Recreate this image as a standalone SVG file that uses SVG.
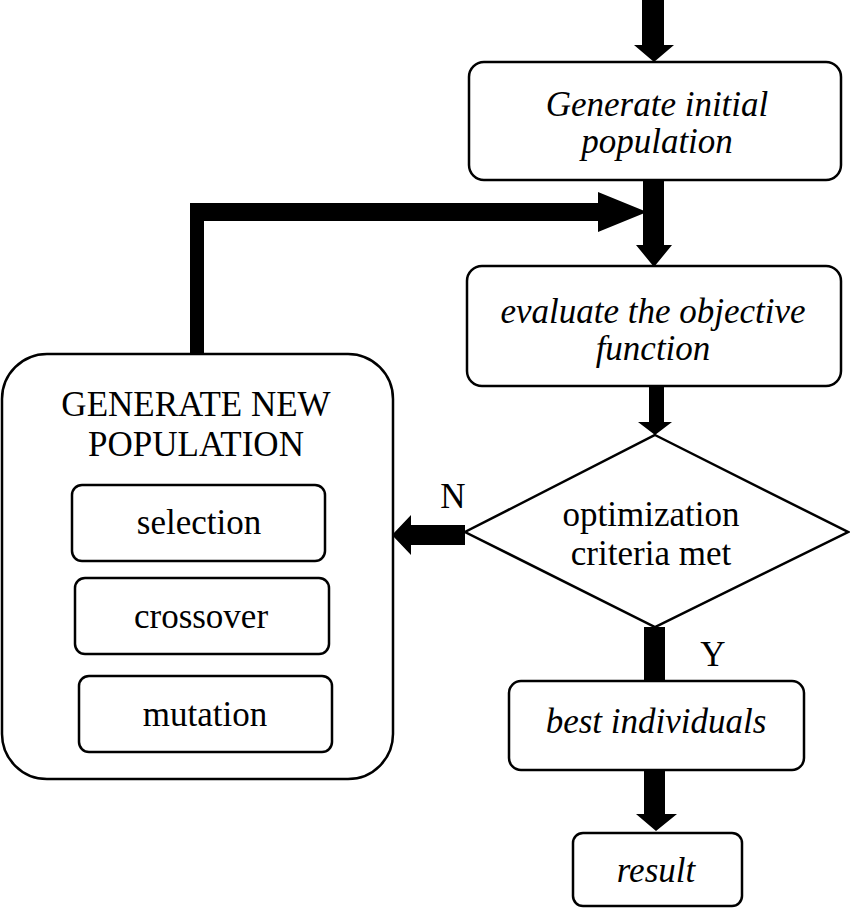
<svg xmlns="http://www.w3.org/2000/svg" width="850" height="908" viewBox="0 0 850 908">
<style>
.box{fill:#fff;stroke:#000;stroke-width:2.5}
text{font-family:'Liberation Serif','Times New Roman',serif;font-size:35px;fill:#000;text-anchor:middle}
.i{font-style:italic}
.c{fill:#000;stroke:none}
</style>
<rect width="850" height="908" fill="#fff"/>
<g id="connectors">
<polygon class="c" points="642,0 664,0 664,45 674,45 654,62 634,45 642,45"/>
<polygon class="c" points="643,180 664,180 664,245 672,245 654,267 636,245 643,245"/>
<polygon class="c" points="190,354 204,354 204,221 598,221 598,232 647,212 598,192 598,203 190,203"/>
<polygon class="c" points="649,386 664,386 664,422 672,422 655,435 638,422 649,422"/>
<polygon class="c" points="465,525 465,545 411,545 411,555 392,535 411,515 411,525"/>
<rect class="c" x="644" y="627" width="21" height="55"/>
<polygon class="c" points="644,770 665,770 665,814 677,814 656,831 636,814 644,814"/>
</g>
<g id="init">
<rect class="box" x="469" y="62" width="372" height="118" rx="15"/>
<text class="i" x="657" y="116">Generate initial</text>
<text class="i" x="657" y="153">population</text>
</g>
<g id="evaluate">
<rect class="box" x="467" y="266" width="374" height="120" rx="15"/>
<text class="i" x="653" y="323">evaluate the objective</text>
<text class="i" x="653" y="360">function</text>
</g>
<g id="criteria">
<polygon class="box" points="655,435 848,532 655,627 465,532"/>
<text x="651" y="526">optimization</text>
<text x="651" y="565">criteria met</text>
</g>
<g id="labelN"><text x="453" y="508">N</text></g>
<g id="labelY"><text x="713" y="666">Y</text></g>
<g id="newpop">
<rect class="box" x="2" y="354" width="391" height="425" rx="45"/>
<text x="196" y="416">GENERATE NEW</text>
<text x="196" y="456">POPULATION</text>
</g>
<g id="selection">
<rect class="box" x="72" y="485" width="253" height="76" rx="10"/>
<text x="199" y="534">selection</text>
</g>
<g id="crossover">
<rect class="box" x="75" y="578" width="254" height="76" rx="10"/>
<text x="201" y="628">crossover</text>
</g>
<g id="mutation">
<rect class="box" x="79" y="676" width="253" height="76" rx="10"/>
<text x="205" y="726">mutation</text>
</g>
<g id="best">
<rect class="box" x="509" y="681" width="295" height="89" rx="12"/>
<text class="i" x="656" y="733">best individuals</text>
</g>
<g id="result">
<rect class="box" x="573" y="833" width="169" height="73" rx="10"/>
<text class="i" x="656" y="882">result</text>
</g>
</svg>
